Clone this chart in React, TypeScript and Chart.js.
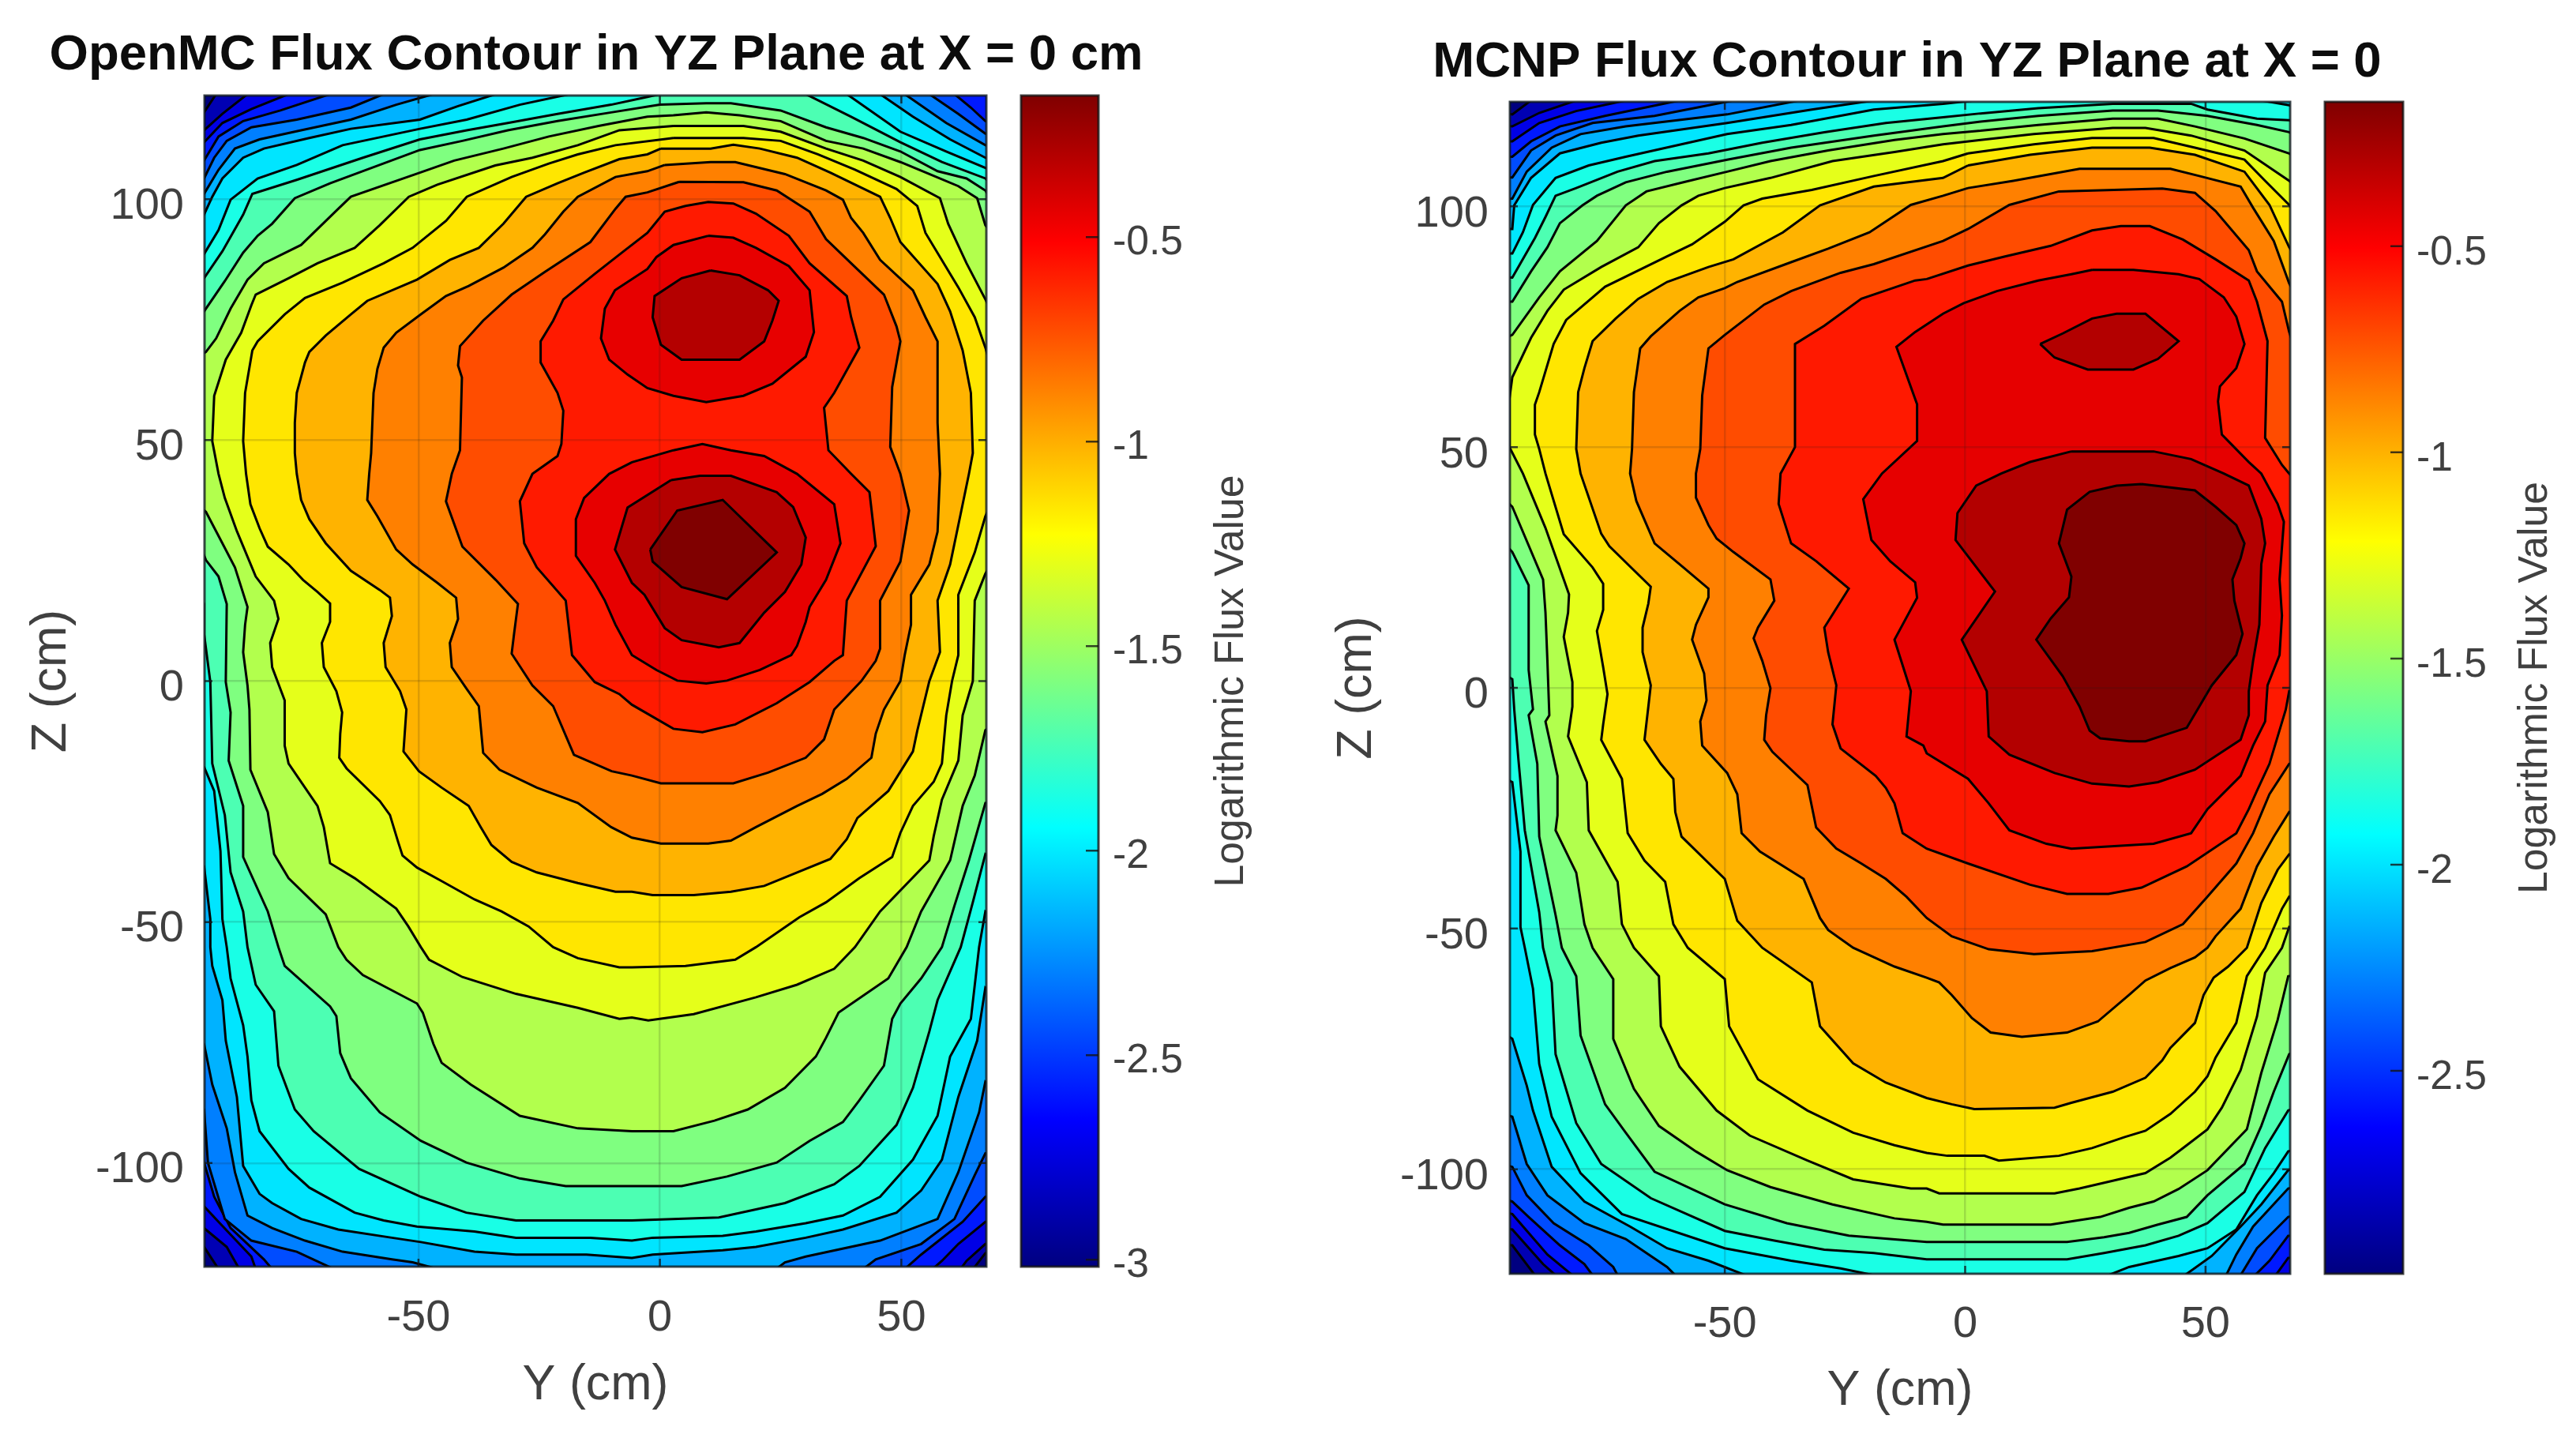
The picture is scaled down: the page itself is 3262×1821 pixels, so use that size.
import React, { useEffect, useRef } from "react";
import { Chart, registerables } from "chart.js";

Chart.register(...registerables);

const FONT = '"Liberation Sans", Arial, sans-serif';
const TEXT = "#404040";

const yTicks = [-50, 0, 50];
const zTicks = [-100, -50, 0, 50, 100];
const openmcBarTicks = [-3, -2.5, -2, -1.5, -1, -0.5];
const mcnpBarTicks = [-2.5, -2, -1.5, -1, -0.5];

const jetStops: [number, string][] = [
  [0, "#000080"], [0.125, "#0000ff"], [0.375, "#00ffff"], [0.625, "#ffff00"], [0.875, "#ff0000"], [1, "#800000"],
];

const openmcRange = [-3.017, -0.154];
const mcnpRange = [-2.992, -0.15];

const openmcLevels = [-2.874, -2.731, -2.588, -2.445, -2.302, -2.159, -2.016, -1.873, -1.73, -1.587, -1.444, -1.301, -1.158, -1.015, -0.872, -0.729, -0.586, -0.443, -0.3, -0.154];
const mcnpLevels = [-2.85, -2.708, -2.566, -2.424, -2.282, -2.139, -1.997, -1.855, -1.713, -1.571, -1.429, -1.287, -1.145, -1.003, -0.861, -0.718, -0.576, -0.434, -0.292, -0.15];

// OpenMC contours: [Y cm, Z cm], one outline per flux level
const openmc01 = [[-91.9,121.8],[100,125],[100,-118],[67.4,-118.7],[64.4,-122.6],[-91.4,-122],[-94.4,-117.4],[-140,-110],[-140,130],[-94.4,118]];
const openmc02 = [[-85.4,121.8],[90,125],[90,-115],[67.4,-116.8],[63.5,-120.3],[61.8,-122.6],[-87.1,-122],[-89.7,-117.4],[-94.4,-113.5],[-135,-105],[-135,125],[-94.4,114.3],[-90.6,117.7]];
const openmc03 = [[-76.9,121.8],[67,121.8],[110,120],[110,-115],[67.4,-112.2],[61.8,-116.8],[58.4,-120.3],[55.8,-122.6],[-83.7,-122],[-84.6,-119.4],[-91.4,-112.2],[-94.4,-109],[-130,-100],[-130,120],[-94.4,111.8],[-90.6,115.8],[-84.6,118.7]];
const openmc04 = [[-68.3,121.8],[61,121.8],[64.4,119],[67.4,116.2],[105,115],[105,-110],[67.4,-107],[62.7,-112.2],[54.1,-119],[50.7,-122],[-80.3,-122],[-82,-120],[-88.9,-113.5],[-92.3,-107],[-94.4,-99.9],[-125,-90],[-125,115],[-94.4,108],[-91.4,113],[-86.3,116.2],[-78.6,118.4]];
const openmc05 = [[-57.2,121.8],[55.8,121.8],[61.8,117.7],[67.4,113.6],[100,110],[100,-105],[67.4,-98],[65.2,-102.5],[61,-111.6],[54.1,-116.8],[44.7,-120],[42.1,-122],[-67.5,-122],[-75.2,-118.4],[-84.6,-116.1],[-90.1,-111.6],[-93.6,-99.9],[-94.4,-88.9],[-120,-80],[-120,110],[-94.4,104.3],[-92.3,108.6],[-89.7,112.1],[-84.6,114.9],[-75.2,116.5],[-64,119]];
const openmc06 = [[-46.9,121.8],[50.7,121.8],[59.3,115.8],[67.4,111.2],[95,105],[95,-100],[67.4,-83.1],[66.1,-89.5],[61.8,-101.9],[57.5,-111.6],[45.6,-116.1],[30.2,-119.4],[25.9,-120.6],[23.3,-122.6],[-46,-122],[-51.2,-120.6],[-55.5,-120],[-65.7,-118.4],[-73.5,-116.1],[-80.3,-113.5],[-85.4,-110.9],[-88,-101.9],[-89.7,-92.8],[-92.7,-83.7],[-94.4,-75.3],[-115,-60],[-115,105],[-94.4,101.1],[-91.4,106.1],[-88,110.5],[-82.9,112.4],[-74.3,114.3],[-64,116.5],[-54.6,119.6]];
const openmc07 = [[-34,121.8],[45.6,121.8],[52.4,117.1],[60.1,112.4],[67.4,108.6],[90,100],[90,-80],[67.4,-63.6],[65.7,-74.6],[61.8,-86.3],[58.4,-99.3],[54.1,-105.7],[49,-110.3],[37.9,-113.8],[30.2,-115.5],[19.9,-117.4],[13,-118.1],[-1.5,-119],[-5.8,-119.7],[-15.2,-119],[-29.8,-119],[-38.4,-118.4],[-49.5,-116.4],[-55.5,-115.5],[-66.6,-113.8],[-74.3,-111.6],[-80.3,-108.3],[-82.9,-106.4],[-86.3,-100.6],[-87.6,-86.3],[-89.9,-74.6],[-90.6,-66.2],[-92.7,-59.1],[-93.1,-55.2],[-93.1,-49.4],[-94.4,-38.4],[-110,-30],[-110,95],[-94.4,96.8],[-92.7,100.5],[-90.6,104.3],[-86.3,108.6],[-82,110.5],[-72.6,112.7],[-64,114.6],[-49.7,116.5],[-41.8,119.3]];
const openmc08 = [[-18.7,121.8],[38.7,121.8],[49.8,114],[59.3,109.9],[67.4,106.5],[86,95],[86,-60],[67.4,-47.8],[66.1,-55.2],[64.4,-70.1],[60.1,-77.9],[57.5,-90.2],[52.4,-99.3],[45.6,-107],[37.9,-110.9],[30.2,-112.5],[19.9,-114.2],[13,-115.1],[-1.5,-115.5],[-5.8,-116.1],[-14.4,-115.5],[-29.8,-115.5],[-38.4,-114.2],[-50.3,-113.2],[-57.2,-111.9],[-63.2,-110.3],[-72.6,-105.1],[-76.9,-101.2],[-82.9,-93.4],[-84.6,-87],[-85.4,-77.9],[-86.3,-71.4],[-88.9,-61.7],[-89.7,-55.2],[-90.6,-49.4],[-91,-35.3],[-92.3,-22.8],[-94.4,-17.8],[-105,-10],[-105,90],[-94.4,88.6],[-91.4,93.6],[-88.9,99.9],[-83.3,104.3],[-75.2,107.1],[-65.7,111.2],[-49.7,114.6],[-40,116.5],[-29,119.6]];
const openmc09 = [[0,121.8],[30.2,121.8],[39.6,117.1],[49.8,111.8],[58.4,107.7],[67.4,104.3],[82,90],[82,-45],[67.4,-35.9],[64.8,-45.9],[62.3,-55.2],[57.5,-66.2],[55.8,-72.7],[52.4,-84.4],[49,-92.1],[41.3,-100.6],[36.1,-104.4],[25.9,-108.3],[12.2,-111.3],[-5.8,-111.9],[-10.1,-111.9],[-29.8,-111.9],[-40.1,-110.3],[-49.5,-107],[-62.3,-101.2],[-71.7,-93.4],[-75.6,-88.9],[-79,-79.8],[-79.9,-68.5],[-83.7,-63],[-85.4,-55.2],[-86.3,-47.8],[-88.9,-39.7],[-90.1,-27.8],[-92.7,-17.1],[-93.1,-0.2],[-94.4,9.8],[-94.4,16],[-100,30],[-100,85],[-94.4,83.6],[-90.6,89.2],[-86.3,96.8],[-84.4,101.1],[-75.2,104],[-61.5,108.6],[-49.7,112.4],[-40,114.3],[-31.5,115.8],[-21.2,117.7],[-10.1,119.6],[-2.6,121.2]];
const openmc10 = [[0,119.6],[9.6,119.9],[14.7,119.9],[25,118.4],[34.4,114.9],[42.1,112.7],[49.8,109.9],[57.5,105.8],[63.5,104.3],[67.4,101.8],[78,85],[78,-25],[67.4,-25.3],[64,-37.2],[61,-46.6],[58.4,-55.2],[54.1,-61.7],[49.8,-66.9],[48.1,-70.1],[46.4,-79.8],[41.3,-87],[37.9,-91.5],[31,-95.4],[24.2,-99.9],[13.9,-102.8],[4.5,-104.8],[-5.8,-104.8],[-19.5,-104.8],[-29,-103.2],[-40.1,-99.9],[-49.5,-95.4],[-58,-89.5],[-64,-82.4],[-66.2,-77.2],[-67,-69.5],[-68.3,-67.5],[-77.7,-59.1],[-79,-55.2],[-81.2,-47.8],[-86.3,-36.5],[-86.3,-25.9],[-89.3,-16.5],[-88.9,-6.5],[-89.9,-0.2],[-89.7,16],[-91.4,21.7],[-94,25.1],[-100,40],[-100,75],[-94.4,76.7],[-90.1,83],[-86.3,88.9],[-83.3,92.4],[-80.3,94.9],[-75.6,100.2],[-68.3,103.3],[-49.7,110.2],[-40.9,112.1],[-31.5,114.3],[-21.2,116.2],[-10.1,118]];
const openmc11 = [[2.8,117.4],[9.6,118],[16.5,117.4],[25,116.2],[34.4,112.1],[42.1,110.5],[49.8,107.7],[55.8,105.2],[61.8,102.7],[65.7,100.2],[67.4,94.6],[75,85],[75,-5],[67.4,-10.2],[65.2,-19.6],[62.7,-25.9],[60.1,-37.2],[54.1,-47.8],[51.1,-55.2],[47.3,-61.7],[37,-68.8],[34.4,-74],[32.3,-77.9],[25.9,-84.4],[18.2,-88.9],[11.3,-91.2],[2.8,-93.4],[-5.8,-93.4],[-17,-92.8],[-29,-90.2],[-39.2,-83.7],[-45.2,-79.2],[-46.9,-75.3],[-49.1,-68.8],[-50.3,-66.9],[-61.5,-61],[-64.9,-57.8],[-66.6,-55.2],[-69.2,-48.4],[-76.9,-40.9],[-79.9,-35.9],[-81.2,-27.2],[-84.8,-18.4],[-85,-5.9],[-85.4,-0.9],[-86.3,6],[-85.9,11.7],[-85.4,15.4],[-88,23.6],[-90.6,28.6],[-94,35.1],[-100,40],[-100,65],[-94,68.3],[-91.9,71.1],[-88.9,77.3],[-85.4,83.3],[-82,86.7],[-74.3,90.5],[-66.6,98],[-64,100.5],[-49.7,105.5],[-42.6,108],[-32.4,110.5],[-23,113],[-12.7,115.2],[-2.6,117.1]];
const openmc12 = [[2.8,115.2],[17.3,115.2],[25,114],[34.4,110.5],[42.1,108],[49.8,104.6],[58,100.2],[59.7,94.9],[63.5,86.7],[67.4,79.2],[72,70],[72,30],[67.4,22.3],[65.2,16.7],[64.8,0],[62.7,-7.1],[61.8,-16.5],[58.4,-24.6],[56.7,-32.2],[55.8,-37.2],[45.6,-47.8],[40.4,-55.2],[36.1,-59.7],[28.4,-63],[19.9,-65.6],[7,-69.1],[-2.4,-70.4],[-5.8,-69.8],[-8.4,-70.1],[-17,-67.8],[-29.8,-64.9],[-40.9,-61.4],[-47.8,-57.8],[-49.5,-55.2],[-52.1,-50.9],[-54.6,-47.2],[-63.2,-40.9],[-68.3,-37.8],[-69.6,-30.3],[-70.9,-25.9],[-76.9,-17.1],[-77.7,-13.4],[-77.7,-4],[-80.3,2.9],[-80.7,7.9],[-79,12.9],[-79.9,16.7],[-83.7,21.7],[-87.6,31.1],[-90.1,38],[-91.4,43],[-92.7,49.8],[-92.3,59.2],[-89.9,66.7],[-86.7,72.3],[-84.6,78],[-83.7,80.2],[-76.9,83.6],[-70.9,86.7],[-63.2,89.9],[-58,94.6],[-52,100.5],[-46.1,103],[-34.1,107],[-26.4,108.6],[-17,111.2],[-8.4,114.3]];
const openmc13 = [[2.8,112.7],[17.3,112.7],[25,112.1],[32.7,109.3],[40.4,106.1],[49,102.1],[53.3,98.6],[55,93],[61.8,81.7],[65.2,75.5],[67.4,69.2],[70,60],[70,40],[67.4,34.2],[65.2,26.7],[61.8,17.9],[61.8,5.4],[60.5,0],[59.3,-7.1],[58.4,-17.1],[56.7,-20.9],[52.4,-25.9],[49.8,-31.5],[48.1,-36.5],[41.3,-40.9],[34.4,-45.9],[28.9,-49],[19.9,-55.2],[15.6,-57.8],[5.3,-59.1],[-5.8,-59.4],[-8.4,-59.4],[-17,-57.5],[-22.1,-55.2],[-27.2,-50.9],[-32.8,-47.8],[-38.4,-45.3],[-45.2,-41.5],[-50.3,-38.7],[-53.3,-36.2],[-54.2,-33.4],[-55.9,-27.8],[-58,-24.9],[-64.9,-18.1],[-66.4,-15.9],[-66.2,-10.9],[-65.8,-6.5],[-67,-2.1],[-69.6,2.9],[-70,7.9],[-68.3,12.3],[-68.3,16.1],[-70.9,18.5],[-73.9,21],[-76.9,24.2],[-81.2,27.9],[-82.9,31.7],[-84.8,36.7],[-85.7,43],[-86.3,49.8],[-85.9,59.8],[-84.4,68.6],[-83.3,70.5],[-77.7,76.1],[-73.5,79.5],[-65.7,82.7],[-57.2,86.7],[-51.2,89.9],[-44.3,95.5],[-40,100.5],[-30.7,104.6],[-23,107.4],[-17,109.3],[-9.2,111.2]];
const openmc14 = [[0.2,110.5],[10.5,110.5],[15.2,111.3],[20.7,110.5],[28.4,108.6],[35.3,105.5],[45.6,100.5],[47.7,96.1],[49.8,91.1],[57.5,82.4],[60.1,76.7],[62.7,68.6],[64.4,59.8],[64.8,47.3],[64,43],[62.7,36.7],[60.1,24.2],[57.5,16.7],[58,6],[55.8,0],[53.3,-10.3],[52.4,-14.6],[47.3,-22.8],[40.9,-28.4],[38.7,-32.8],[35.3,-36.9],[28.4,-39.7],[21.6,-42.5],[14.7,-43.7],[7,-44.4],[-1.5,-44.4],[-5.8,-43.7],[-9.2,-43.7],[-17,-41.9],[-25.5,-39.7],[-30.7,-37.5],[-34.9,-34],[-37.1,-30.3],[-39.6,-25.9],[-45.2,-22.1],[-49.9,-18.7],[-53.1,-14.6],[-52.5,-5.9],[-53.8,-2.1],[-56.8,2.9],[-57.2,7.9],[-55.5,13.5],[-55.9,17.3],[-58,18.9],[-64,22.9],[-69.2,28.6],[-72.6,33.6],[-74.3,37.6],[-75.2,43],[-75.6,47.3],[-75.6,53.6],[-75.2,59.8],[-73.5,66.1],[-72.6,68.3],[-69.2,71.7],[-64,76.1],[-60.6,78.9],[-50.3,83.3],[-43.5,87.4],[-37.5,89.9],[-32.4,94.9],[-27.7,100.5],[-21.2,103.3],[-15.7,105.5],[-8.4,108.3],[-2.6,109.3]];
const openmc15 = [[1,107.1],[10.5,107.7],[15.6,107.7],[25.9,105.2],[34.4,101.8],[37.9,99.9],[39.6,96.1],[42.1,93],[45.6,87.4],[52.4,81.1],[55,75.5],[57.5,70.5],[57.5,53.6],[58,43],[57.5,31],[55.8,24.2],[52,17.9],[52,11.7],[50.7,5.4],[49.8,0],[46.4,-5.9],[44.7,-10.9],[43.8,-15.9],[38.7,-20.3],[33.6,-23.4],[28.4,-25.9],[19.9,-30.3],[14.7,-33.1],[10,-33.7],[0.2,-33.7],[-5.8,-32.5],[-10.1,-30.3],[-17,-25.3],[-25.5,-22.1],[-33.2,-18.4],[-36.6,-14.9],[-37.5,-5.2],[-40.1,-1.5],[-43.1,2.9],[-43.5,7.9],[-41.8,12.9],[-42.2,17.3],[-46.1,20.4],[-51.2,24.2],[-54.6,27.3],[-58.5,34.2],[-60.6,37.6],[-60.2,43],[-59.8,47.3],[-59.3,59.8],[-58.5,64.8],[-57.2,69.2],[-54.6,72.3],[-49.5,76.1],[-44.3,79.9],[-39.6,82],[-32.4,85.8],[-26.4,89.9],[-23.8,92.7],[-20,97.4],[-17,100.5],[-9.2,104.6],[-2.6,105.8]];
const openmc16 = [[4,103.6],[17.3,103.5],[24.2,101.8],[31,97.4],[34.4,91.7],[39.6,86.7],[46.4,80.2],[49,73.6],[49.8,70.5],[48.1,61],[47.7,48.6],[49.8,43],[51.6,35.4],[49.8,24.8],[45.6,16.7],[45.6,6.7],[44.7,4.2],[41.7,0],[36.1,-5.9],[34,-12.1],[30.2,-15.9],[22.4,-19],[15.2,-21.2],[0.2,-21.2],[-5.8,-19.6],[-10,-18.7],[-17.8,-15.3],[-22.1,-5.2],[-26.4,-0.9],[-30.7,5.7],[-30.2,9.8],[-29.4,16],[-34,21],[-40.9,27.9],[-44.3,37.3],[-43.1,43],[-41.4,47.9],[-41,63],[-41.8,65.5],[-41.4,69.5],[-36.6,74.8],[-30.7,80.2],[-23.8,84.9],[-14.4,91.1],[-9.2,98],[-7.1,100.5],[-2.6,101.4]];
const openmc17 = [[5.3,98.6],[10,99.4],[15.2,99.1],[19.9,97],[26.7,92.4],[31,86.7],[38.7,79.9],[39.6,75.5],[41.3,69.2],[36.1,59.8],[34,56.7],[34.9,47.9],[39.6,43],[43.4,39.2],[44.7,28],[38.7,16.7],[37.9,5.4],[36.1,4.2],[31,-0.2],[24.2,-4.6],[15.6,-9],[8.8,-10.6],[2.8,-9.9],[-5.8,-4.9],[-8.4,-2.7],[-13.5,-0.2],[-18.2,5.4],[-19.5,16.7],[-25.5,23.6],[-28.1,28.6],[-29,37.3],[-26.4,43],[-21.2,46.7],[-20.4,49.2],[-20,56.1],[-21.2,59.8],[-24.7,66.1],[-24.7,70.5],[-22.1,74.8],[-20,79.2],[-13.5,84.5],[-7.5,89.2],[-2.6,93],[1,97.4]];
const openmc18Upper = [[10,92.4],[15.2,92],[19.9,89.9],[26.7,86.1],[31,81.1],[31.9,72.4],[30.2,67.3],[23.3,61.7],[17.3,59.2],[9.6,57.9],[2.8,59.2],[-2.6,60.8],[-6.7,63.6],[-10.5,66.7],[-12.2,71.1],[-11.4,77.3],[-9.3,81.1],[-2.6,85.5],[-0.7,88],[2.8,90.5]];
const openmc18Lower = [[2.8,47.9],[8.8,49.2],[14.7,47.9],[21.6,46.7],[28.4,43],[36.1,36.7],[37.4,28.6],[34.4,21],[31,15.4],[30.2,12.3],[28.4,7.3],[27.2,5.4],[20.7,2.3],[13.9,0.1],[9.6,-0.5],[3.6,0.1],[-0.7,2.3],[-5.8,5.4],[-9.2,11.7],[-11.4,16.7],[-13.5,20.4],[-17.4,26],[-17.4,33.6],[-15.7,38],[-10.5,43],[-5.8,45.4]];
const openmc19Upper = [[10.5,85.2],[16.5,84.2],[22.4,81.1],[24.6,78.9],[23.3,74.8],[21.6,70.5],[16.5,66.7],[4.5,66.7],[0.2,69.8],[-1.5,75.5],[-1.1,79.9],[4.5,83.6]];
const openmc19Lower = [[2.3,41.7],[8.3,42.6],[14.7,42.6],[24.2,39.2],[27.6,36.1],[30.2,29.8],[29.3,24.2],[25.9,18.5],[21.6,14.2],[16.5,7.9],[12.2,7],[4.5,8.5],[1,11],[-3.2,17.9],[-5.8,20.4],[-9.3,27.3],[-6.7,36]];
const openmc20 = [[-2,27.3],[3.6,35.4],[13,37.6],[24.2,26.7],[13.9,17],[4.5,19.5],[-1.5,24.8]];

// MCNP contours: [Y cm, Z cm]
const mcnp01 = [[-90.3,122],[145,125],[145,-128],[-89.5,-122],[-94.2,-115.8],[-145,-110],[-145,125],[-94.2,119.1]];
const mcnp02 = [[-80.9,122],[140,125],[140,-125],[-85.2,-122],[-87.8,-119.7],[-94.2,-112.5],[-140,-105],[-140,120],[-94.2,116.6],[-88.6,119.4]];
const mcnp03 = [[-70.6,122],[130,123],[130,-115],[67.2,-118.4],[64.6,-122],[-81.7,-122],[-86.9,-117.7],[-94.2,-109.3],[-135,-100],[-135,115],[-94.2,113.5],[-88.6,117.3],[-80.9,119.8]];
const mcnp04 = [[-59.4,122],[125,123],[125,-110],[67.2,-113.8],[63.3,-119],[60.3,-122],[-77.5,-122],[-79.2,-119.7],[-84.3,-115.8],[-90.8,-109.9],[-94.2,-106.7],[-130,-95],[-130,110],[-94.2,110.3],[-90.3,113.5],[-84.3,116.6],[-74.9,118.8]];
const mcnp05 = [[-48.2,122],[120,123],[120,-100],[67.2,-109.9],[60.7,-116.4],[57.3,-122],[-72.3,-122],[-73.2,-120.3],[-78.3,-115.8],[-85.6,-111.2],[-91.2,-105.4],[-94.2,-99.5],[-125,-90],[-125,105],[-94.2,106],[-90.3,111.6],[-85.2,114.7],[-77.5,117.3],[-64.6,118.8]];
const mcnp06 = [[-34.5,122],[115,123],[115,-95],[67.2,-104],[59.9,-111.9],[56.4,-117.7],[54.3,-122],[-60.3,-122],[-62,-120.3],[-70.6,-114.5],[-79.2,-111.2],[-86.9,-105.4],[-91.2,-98.9],[-94.2,-89.1],[-120,-80],[-120,100],[-94.2,101.6],[-91.2,107.2],[-86,112.2],[-80,115],[-70.6,116.6],[-49.5,119.1]];
const mcnp07 = [[-19,122],[110,123],[110,-90],[67.2,-100.2],[61.6,-107.3],[57.3,-111.9],[51.3,-118],[45.7,-122],[-45.7,-122],[-53.4,-119],[-62,-116.4],[-69.7,-111.9],[-79.2,-106.7],[-86,-99.5],[-89.9,-87.8],[-91.2,-82.6],[-94.2,-72.9],[-115,-60],[-115,95],[-94.2,95.3],[-93.8,100.2],[-90.3,105.9],[-84.3,111],[-75.7,113.2],[-68,114.7],[-49.5,117.3],[-31.9,120.1]];
const mcnp08 = [[2,122],[61.6,122],[67.4,121],[105,110],[105,-85],[67.2,-96.3],[64.2,-100.8],[60.7,-105.4],[56.4,-112.5],[50.4,-116.4],[44.4,-118],[34.1,-120.3],[29.8,-122],[-19,-122],[-25.9,-120.6],[-36.2,-119],[-50,-116.4],[-71.4,-109.3],[-80,-100.8],[-86,-89.1],[-88.6,-78.1],[-89.9,-62.5],[-91.6,-54],[-92.5,-49.7],[-92.5,-34],[-94.2,-19.6],[-112,-10],[-112,90],[-94.2,90.2],[-92,94.6],[-89.9,100.3],[-85.2,105.9],[-78.3,108.5],[-70.6,110.3],[-49.5,115],[-36.2,116.9],[-19,120.1],[-4.6,121.3]];
const mcnp09 = [[3.2,119.3],[15.2,120.4],[30.7,121.3],[47,121.3],[50.4,120.1],[60.7,118.2],[67.4,117.9],[100,105],[100,-75],[67.2,-87.8],[62.4,-95.6],[58.1,-104.7],[50.4,-111.2],[44.4,-113.8],[37.5,-115.8],[28.9,-117.4],[21.2,-118.7],[-8,-118.7],[-19,-117.4],[-29.3,-116.7],[-39.7,-114.8],[-50,-112.8],[-65.4,-106],[-75.7,-98.9],[-80.9,-90.4],[-85.2,-76.1],[-86,-61.2],[-87.8,-54],[-88.6,-46.6],[-91.6,-29.6],[-92.9,-15.2],[-93.8,-4.5],[-94.2,1.8],[-108,10],[-108,85],[-94.2,85.2],[-89.5,93.4],[-87.3,97.8],[-85.2,102.2],[-80.9,103.8],[-72.3,107.2],[-64.6,109.4],[-53.4,111],[-42.2,113.2],[-29.3,115.4],[-16.5,117.3],[-4.6,118.5]];
const mcnp10 = [[3.2,117.6],[15.2,118.8],[30.7,119.9],[40.1,119.9],[50.4,118.8],[60.7,116.9],[67.4,115.4],[95,100],[95,-65],[67.4,-76.1],[64.2,-83.9],[61.6,-91],[58.1,-98.9],[50.4,-105.4],[46.1,-109.9],[40.1,-111.5],[34.1,-113.2],[28.9,-114.1],[21.2,-115.1],[-8,-115.1],[-24.2,-113.8],[-37.1,-111.2],[-50,-107.3],[-64.6,-100.5],[-70.6,-92.4],[-74.9,-86.5],[-80,-72.2],[-80.9,-59.9],[-83.9,-54],[-85.2,-47.2],[-88.6,-30.9],[-89,-15.8],[-90.8,-5.7],[-89.9,-4.5],[-90.8,3.7],[-90.8,21.3],[-94.2,28.2],[-105,40],[-105,80],[-94.2,80.2],[-90.3,86.5],[-86.9,91.5],[-84.3,96.5],[-79.6,100.2],[-76.6,102.2],[-70.6,105],[-62,107.2],[-49.5,109.7],[-36.2,112.2],[-19,114.7],[-4.6,116.6]];
const mcnp11 = [[3.2,115.7],[15.2,116.9],[30.7,118.2],[40.1,118.2],[47.8,116.6],[58.1,114.1],[67.4,111],[90,95],[90,-55],[67.2,-59.9],[65,-69],[61.6,-80],[58.6,-91.7],[50.4,-100.2],[44.4,-104.1],[39.2,-106.7],[34.1,-108],[28.1,-109.9],[17.8,-111.5],[-4.6,-111.5],[-8,-110.9],[-14.7,-110.2],[-27.6,-107.3],[-40.5,-103.7],[-49.5,-100.2],[-56,-96.3],[-63.7,-91],[-68.9,-83.3],[-73.2,-72.9],[-73.2,-60.5],[-77.5,-54],[-79.2,-49.1],[-80.9,-38.4],[-85.2,-29.6],[-84.8,-26.5],[-84.8,-18.3],[-87.3,-7],[-86.5,-5.7],[-86.9,5.6],[-87.3,15.6],[-87.8,22.5],[-94.2,37.6],[-102,45],[-102,70],[-94.2,73.3],[-88.6,81.1],[-84.3,86.5],[-76.6,92.8],[-70.6,100.2],[-66.3,103.1],[-58.6,105],[-49.5,107.2],[-40.5,109.4],[-28.5,111.6],[-14.7,113.8],[-4.6,115]];
const mcnp12 = [[3.2,113.8],[14.3,115],[30.7,116.3],[37.5,116.3],[47,114.7],[58.1,111.6],[67.4,105.3],[85,90],[85,-60],[67.4,-49.7],[65.9,-54],[62.4,-59.2],[60.7,-68.3],[57.3,-79.4],[53.4,-87.2],[50.4,-91.7],[46.1,-95],[42.7,-97.6],[37.5,-100.8],[30.7,-102.4],[23.8,-104],[18.6,-105],[-5.4,-105],[-8,-104],[-11.3,-104],[-23.3,-102.1],[-32.8,-98.2],[-44.8,-93],[-51.7,-87.8],[-59.4,-78.7],[-63.3,-70.3],[-63.7,-59.9],[-68.9,-54],[-71.4,-49.1],[-72.3,-40.3],[-78.3,-29.6],[-78.7,-19.6],[-82.6,-10.1],[-81.7,-3.9],[-81.7,1.2],[-83.5,10.6],[-82.6,15.6],[-82.4,19.4],[-83.5,22.5],[-87.3,33.2],[-92,44.5],[-94.8,50],[-94.8,60],[-94.2,64.5],[-90.3,72.7],[-86.9,78.3],[-83.5,82.7],[-75.7,87.4],[-68,91.5],[-63.7,96.5],[-59,100.2],[-55.5,102.2],[-50,103.8],[-40.5,105.9],[-27.6,109.4],[-14.7,111.3],[-4.6,112.9]];
const mcnp13 = [[0.6,111],[14.3,112.9],[26.4,114.2],[39.2,114.2],[47.8,112.2],[58.1,109.7],[62.4,105.3],[67.4,100.3],[80,85],[80,-50],[67.4,-43.4],[65.9,-45.9],[62.4,-54],[58.6,-59.9],[56.4,-69.6],[52.1,-76.8],[50.4,-80.7],[47.8,-83.9],[42.7,-88.5],[37.5,-92],[33.2,-93.3],[26.4,-95.6],[19.5,-97.2],[7,-98.2],[4,-97.2],[-3.7,-97.2],[-8,-96.6],[-14.7,-95],[-23.3,-92.4],[-32.8,-87.8],[-43.1,-81.3],[-49.1,-70.3],[-50,-60.5],[-57.7,-54],[-60.7,-49.1],[-62.4,-40.3],[-66.7,-35.9],[-70.2,-30.2],[-71.4,-18.9],[-75.7,-10.8],[-75.3,-7.6],[-74.4,-1.3],[-75.3,4.3],[-76.6,11.8],[-75.3,16.2],[-75.3,21.6],[-77.5,25],[-83.5,31.9],[-87.3,44.5],[-88.6,49.6],[-89.5,52.6],[-89.5,58.8],[-88.6,61.4],[-85.6,71.4],[-83,76.4],[-74.9,83.3],[-62,89.6],[-56.8,92.1],[-50,96.8],[-46.1,100.2],[-42.2,101.6],[-31.9,103.4],[-19,106.3],[-4.6,109.4]];
const mcnp14 = [[0.6,108.5],[13.5,110.7],[26.4,112.2],[38.4,112.2],[47.8,110.7],[58.1,107.2],[63.3,100.3],[67.4,91.5],[78,75],[78,-40],[67.4,-34.6],[65,-37.8],[61.6,-44.7],[58.6,-54],[54.7,-57.9],[51.7,-60.2],[49.6,-63.8],[47.8,-69.6],[42.7,-74.8],[41,-77.4],[37.5,-81],[30.7,-83.9],[22.1,-86.2],[18.6,-87.2],[1.9,-87.5],[-2.8,-86.5],[-8,-85.2],[-16.5,-82],[-23.3,-78],[-30.2,-70.3],[-31.9,-61.2],[-42.2,-54],[-47.4,-48.4],[-50,-39.7],[-59,-30.9],[-60.3,-25.8],[-60.7,-18.9],[-63.3,-15.8],[-66.7,-10.8],[-65.9,-3.9],[-65.4,0.5],[-67.1,7.4],[-67.1,12.5],[-65.9,17.5],[-65.4,21],[-74,29.4],[-75.7,32],[-80,44.5],[-80.9,49.6],[-80.5,61.4],[-79.2,66.4],[-77.5,72],[-72.7,76.7],[-68,80.8],[-62,84.3],[-53.4,87.4],[-48.2,89],[-37.9,94.6],[-30.2,100.2],[-19,104.1],[-4.6,105.9]];
const mcnp15 = [[0.6,103.8],[10,105.3],[23.8,107.8],[42.7,107.8],[48.7,106.3],[57.3,104.1],[59.9,99.7],[64.2,92.8],[67.4,84],[75,70],[75,-30],[67.4,-25.8],[64.2,-30.9],[60.7,-37.1],[57.3,-45.9],[52.1,-51.6],[50.4,-54],[47.8,-56],[42.7,-58.2],[37.5,-60.8],[34.1,-63.8],[27.6,-69.3],[21.2,-71.6],[11.8,-72.5],[5.3,-71.6],[1.4,-68.6],[-2.8,-63.8],[-5.4,-61.2],[-8,-60.2],[-14.7,-57.9],[-23.3,-54],[-28.5,-50.3],[-30.2,-47.8],[-33.6,-39.7],[-42.7,-34],[-46.5,-30.2],[-47.4,-22.1],[-49.5,-17.7],[-54.7,-12],[-55.1,-7],[-53.8,-2.6],[-54.3,3],[-56.8,10],[-56,13.1],[-53.4,18.8],[-53.4,20.6],[-58.6,25],[-64.6,30],[-68.4,38.8],[-69.7,44.5],[-69.3,49.6],[-68.9,61.4],[-67.6,70.5],[-65.4,73],[-59.4,78.3],[-55.5,81.1],[-50,83],[-47.4,84.3],[-36.2,88.4],[-28.5,91.2],[-19.9,94.6],[-11.3,100.3],[-4.6,102.2]];
const mcnp16 = [[0.6,95.3],[9.2,100.3],[19.5,103.1],[41,103.7],[47.8,102.8],[52.1,99],[59,90.9],[60.7,86.5],[65.9,80.2],[67.4,73.9],[72,60],[72,-15],[67.4,-15.8],[63.3,-22.1],[59.9,-30.2],[56.4,-36.5],[50.4,-43.4],[45.3,-49.1],[37.5,-52.8],[26.4,-54.7],[14.3,-55.3],[4.9,-54.3],[-2.8,-51.6],[-8,-47.8],[-12.2,-43.4],[-16.5,-39.7],[-21.6,-36.5],[-26.8,-33.4],[-31,-29],[-32.8,-20.2],[-40.1,-13.3],[-41.8,-10.8],[-41.4,-5.7],[-40.5,-0.1],[-42.2,5.6],[-44,10.3],[-43.1,12.5],[-39.7,18.1],[-40.5,22.5],[-48.2,28.2],[-51.7,31],[-53.4,33.8],[-56,39.5],[-56,44.5],[-55.1,49.6],[-54.7,60.7],[-53.4,70.5],[-50,73.3],[-41.8,79.6],[-36.2,82.4],[-25.9,86.2],[-19,88],[-4.6,92.8]];
const mcnp17 = [[-8,84.9],[0.6,87.7],[8.3,89.6],[17.8,91.8],[26.4,95],[32.4,95.9],[38.4,95.9],[45.3,93.1],[52.1,89],[59,84.6],[60.7,80.2],[62.9,72],[62.4,51.9],[65.9,46.3],[67.4,44.5],[72,40],[72,-2],[67.4,-0.7],[66.7,-4.5],[63.3,-15.8],[60.7,-21.4],[59,-25.2],[56.4,-30.2],[46.1,-37.1],[36.7,-41.5],[29.8,-42.8],[21.2,-42.8],[13.5,-40.9],[0.6,-36.5],[-8,-33.4],[-13,-30.2],[-14.7,-24],[-16.5,-20.8],[-18.6,-18.3],[-25.9,-12.6],[-27.6,-7.6],[-26.8,0.5],[-28.5,7.4],[-29.3,12.5],[-24.2,20.6],[-31,26.3],[-36.2,30],[-38.8,38.2],[-38.4,44.5],[-35.4,50],[-35.4,71.4],[-29.3,75.2],[-21.6,80.8],[-10.4,84.6]];
const mcnp18 = [[26.4,86.8],[35,86.8],[44.4,85.9],[48.7,84.9],[53.8,81.1],[56.4,77.1],[58.1,71.4],[56.4,66.4],[53,62.6],[52.6,59.5],[53.4,52.6],[59,46.9],[61.6,44.5],[65,38.2],[66.3,34.5],[65.4,22.5],[65.9,15],[65.4,6.8],[62.9,0.5],[62.4,-7],[59.9,-12],[57.3,-18.3],[50.4,-25.2],[47,-30.2],[39.2,-32.4],[22.1,-33.4],[16.9,-32.4],[9.2,-29.6],[4.9,-24],[0.6,-18.9],[-8,-13.6],[-8.7,-12],[-12.2,-10.1],[-11.3,-0.7],[-14.7,10],[-10,18.7],[-10.4,21.9],[-15.6,26.3],[-19.5,30.7],[-21.2,39.2],[-17.3,44.5],[-10,51.3],[-10,58.9],[-14.3,70.8],[-10.4,73.9],[-4.6,77.7],[-0.3,79.9],[6.6,82.4],[15.2,84.6],[22.1,85.9]];
const mcnp19Upper = [[15.6,71.4],[20.3,73.6],[26.4,76.7],[31.5,77.7],[37.5,77.7],[44.4,72],[40.1,68.3],[35,66.1],[25.5,66.1],[18.6,68.6]];
const mcnp19Lower = [[22.1,49.1],[39.2,49.1],[47,47.5],[53.8,44.5],[59,42],[61.6,35.1],[62.4,30],[61.6,25.7],[61.2,13.1],[59.9,5.6],[59,-0.7],[59,-5.7],[57.3,-10.8],[47.8,-17],[40.1,-19.6],[34.1,-20.5],[26.4,-19.9],[18.6,-17.7],[9.2,-13.9],[4.9,-10.1],[4.5,-0.7],[-0.7,10],[6.2,20],[-2,30.7],[-1.6,36.3],[2.3,42],[7.5,44.5],[13.5,46.9]];
const mcnp20 = [[36.7,42.3],[47.8,41],[52.1,37.6],[56.4,33.8],[58.1,30],[57.3,26.9],[55.6,22.5],[56,18.1],[57.7,11.2],[56.4,6.8],[51.3,0.5],[48.7,-3.9],[46.1,-8.3],[37.5,-11.1],[34.1,-11.1],[28.1,-10.5],[25.9,-8.9],[23.8,-3.9],[20.3,2.4],[14.8,10],[17.8,14.4],[21.6,18.8],[22.1,23.1],[19.5,30],[21.2,37],[25.9,40.7],[31.5,42]];

const openmcContours: number[][][][] = [
  [openmc01], [openmc02], [openmc03], [openmc04], [openmc05], [openmc06], [openmc07], [openmc08], [openmc09], [openmc10],
  [openmc11], [openmc12], [openmc13], [openmc14], [openmc15], [openmc16], [openmc17], [openmc18Upper, openmc18Lower], [openmc19Upper, openmc19Lower], [openmc20],
];
const mcnpContours: number[][][][] = [
  [mcnp01], [mcnp02], [mcnp03], [mcnp04], [mcnp05], [mcnp06], [mcnp07], [mcnp08], [mcnp09], [mcnp10],
  [mcnp11], [mcnp12], [mcnp13], [mcnp14], [mcnp15], [mcnp16], [mcnp17], [mcnp18], [mcnp19Upper, mcnp19Lower], [mcnp20],
];

function hexRgb(h: string) {
  return [parseInt(h.slice(1, 3), 16), parseInt(h.slice(3, 5), 16), parseInt(h.slice(5, 7), 16)];
}
function jet(t: number) {
  const c = Math.max(0, Math.min(1, t));
  for (let i = 1; i < jetStops.length; i++) {
    if (c <= jetStops[i][0]) {
      const [t0, h0] = jetStops[i - 1];
      const [t1, h1] = jetStops[i];
      const f = (c - t0) / (t1 - t0);
      const a = hexRgb(h0);
      const b = hexRgb(h1);
      return `rgb(${a.map((v, k) => Math.round(v + (b[k] - v) * f)).join(",")})`;
    }
  }
  return jetStops[jetStops.length - 1][1];
}

const contourFrame = {
  id: "contourFrame",
  beforeDatasetsDraw(chart: any) {
    const a = chart.chartArea;
    const ctx = chart.ctx;
    ctx.save();
    ctx.fillStyle = jetStops[0][1];
    ctx.fillRect(a.left, a.top, a.right - a.left, a.bottom - a.top);
    ctx.restore();
  },
  afterDraw(chart: any) {
    const a = chart.chartArea;
    const ctx = chart.ctx;
    ctx.save();
    ctx.strokeStyle = "rgba(15,25,30,0.8)";
    ctx.lineWidth = 3;
    ctx.strokeRect(a.left, a.top, a.right - a.left, a.bottom - a.top);
    const len = 10;
    ctx.lineWidth = 2.5;
    ctx.beginPath();
    chart.scales.y.ticks.forEach((t: any) => {
      const p = chart.scales.y.getPixelForValue(t.value);
      ctx.moveTo(a.left, p); ctx.lineTo(a.left + len, p);
      ctx.moveTo(a.right, p); ctx.lineTo(a.right - len, p);
    });
    chart.scales.x.ticks.forEach((t: any) => {
      const p = chart.scales.x.getPixelForValue(t.value);
      ctx.moveTo(p, a.top); ctx.lineTo(p, a.top + len);
      ctx.moveTo(p, a.bottom); ctx.lineTo(p, a.bottom - len);
    });
    ctx.stroke();
    ctx.restore();
  },
};

function barFrame(label: string, labelX: number, fontSize: number) {
  return {
    id: "barFrame",
    afterDraw(chart: any) {
      const a = chart.chartArea;
      const ctx = chart.ctx;
      ctx.save();
      ctx.strokeStyle = "rgba(20,20,20,0.8)";
      ctx.lineWidth = 3;
      ctx.strokeRect(a.left, a.top, a.right - a.left, a.bottom - a.top);
      ctx.lineWidth = 2.5;
      ctx.beginPath();
      chart.scales.y.ticks.forEach((t: any) => {
        const p = chart.scales.y.getPixelForValue(t.value);
        ctx.moveTo(a.right, p);
        ctx.lineTo(a.right - 16, p);
      });
      ctx.stroke();
      ctx.translate(labelX, (a.top + a.bottom) / 2);
      ctx.rotate(-Math.PI / 2);
      ctx.font = `${fontSize}px ${FONT}`;
      ctx.fillStyle = TEXT;
      ctx.textAlign = "center";
      ctx.textBaseline = "middle";
      ctx.fillText(label, 0, 0);
      ctx.restore();
    },
  };
}

function contourConfig(p: any) {
  const datasets: any[] = [];
  p.contours.forEach((outlines: number[][][], k: number) => {
    const color = jet((p.levels[k] - p.range[0]) / (p.range[1] - p.range[0]));
    outlines.forEach((pts: number[][]) => {
      datasets.push({
        data: [...pts, pts[0]],
        xAxisID: "x",
        yAxisID: "y",
        showLine: true,
        fill: "shape",
        backgroundColor: color,
        borderColor: "#000000",
        borderWidth: 3,
        pointRadius: 0,
        tension: 0,
        clip: 0,
        order: -k,
      });
    });
  });
  return {
    type: "scatter",
    data: { datasets },
    plugins: [contourFrame],
    options: {
      responsive: false,
      animation: false,
      devicePixelRatio: 1,
      plugins: {
        legend: { display: false },
        tooltip: { enabled: false },
        title: {
          display: true,
          text: p.title,
          color: "#0c0c0c",
          font: { family: FONT, size: 63.5, weight: "bold", lineHeight: 1.2 },
          padding: { top: p.titleTop, bottom: p.titleBottom },
        },
      },
      scales: {
        x: {
          type: "linear",
          min: p.xLim[0],
          max: p.xLim[1],
          afterBuildTicks: (s: any) => { s.ticks = yTicks.map((value) => ({ value })); },
          afterFit: (s: any) => { s.height = p.bottomSize; },
          grid: { z: 1, color: "rgba(30,30,30,0.15)", lineWidth: 2.5, drawTicks: false },
          border: { display: false },
          ticks: { color: TEXT, font: { family: FONT, size: 56 }, padding: p.xTickPad, maxRotation: 0, callback: (v: any) => String(v) },
          title: { display: true, text: "Y (cm)", color: TEXT, font: { family: FONT, size: 62.8, lineHeight: 1.2 }, padding: { top: 0, bottom: p.xTitlePad } },
        },
        y: {
          type: "linear",
          min: p.yLim[0],
          max: p.yLim[1],
          afterBuildTicks: (s: any) => { s.ticks = zTicks.map((value) => ({ value })); },
          afterFit: (s: any) => { s.width = p.leftSize; },
          grid: { z: 1, color: "rgba(30,30,30,0.15)", lineWidth: 2.5, drawTicks: false },
          border: { display: false },
          ticks: { color: TEXT, font: { family: FONT, size: 56 }, padding: p.yTickPad, labelOffset: p.yLabelOffset, callback: (v: any) => String(v) },
          title: { display: true, text: "Z (cm)", color: TEXT, font: { family: FONT, size: 62.8, lineHeight: 1.2 }, padding: { top: p.yTitlePad, bottom: 0 } },
        },
        gap: {
          axis: "y",
          type: "linear",
          position: "right",
          grid: { display: false },
          border: { display: false },
          ticks: { display: false },
          afterFit: (s: any) => { s.width = p.rightGap; },
        },
      },
    },
  };
}

function barConfig(p: any) {
  return {
    type: "bar",
    data: {
      labels: ["flux"],
      datasets: [{
        data: [p.range],
        barPercentage: 1,
        categoryPercentage: 1,
        borderWidth: 0,
        backgroundColor: (ctx: any) => {
          const a = ctx.chart.chartArea;
          if (!a) return "#000";
          const g = ctx.chart.ctx.createLinearGradient(0, a.bottom, 0, a.top);
          jetStops.forEach(([t, c]) => g.addColorStop(t, c));
          return g;
        },
      }],
    },
    plugins: [barFrame("Logarithmic Flux Value", p.labelX, 51.7)],
    options: {
      responsive: false,
      animation: false,
      devicePixelRatio: 1,
      layout: { padding: { top: p.top, bottom: p.bottom, left: p.padLeft, right: 0 } },
      plugins: { legend: { display: false }, tooltip: { enabled: false }, title: { display: false } },
      scales: {
        x: { display: false },
        y: {
          position: "right",
          type: "linear",
          min: p.range[0],
          max: p.range[1],
          afterBuildTicks: (s: any) => { s.ticks = p.ticks.map((value: number) => ({ value })); },
          afterFit: (s: any) => { s.width = p.axisSize; },
          grid: { display: false, drawTicks: false },
          border: { display: false },
          ticks: { color: TEXT, font: { family: FONT, size: 51.6 }, padding: p.tickPad, labelOffset: p.labelOffset, callback: (v: any) => String(v) },
        },
      },
    },
  };
}

function ChartCanvas({ left, width, config }: { left: number; width: number; config: any }) {
  const ref = useRef<HTMLCanvasElement | null>(null);
  useEffect(() => {
    const chart = new Chart(ref.current as HTMLCanvasElement, config);
    return () => chart.destroy();
  }, []);
  return <canvas ref={ref} width={width} height={1821} style={{ position: "absolute", left, top: 0, width, height: 1821, filter: "blur(0.7px)" }} />;
}

export default function App() {
  return (
    <div style={{ position: "fixed", left: 0, top: 0, width: 3262, height: 1821, background: "#fff", overflow: "hidden" }}>
      <ChartCanvas left={0} width={1510} config={contourConfig({
        contours: openmcContours, levels: openmcLevels, range: openmcRange,
        title: "OpenMC Flux Contour in YZ Plane at X = 0 cm",
        xLim: [-94.3, 67.6], yLim: [-121.5, 121.5],
        rightGap: 261, titleTop: 32, titleBottom: 12.8, bottomSize: 217, leftSize: 259,
        xTickPad: 32, xTitlePad: 29, yTickPad: 26, yTitlePad: 28, yLabelOffset: 9,
      })} />
      <ChartCanvas left={1600} width={1630} config={contourConfig({
        contours: mcnpContours, levels: mcnpLevels, range: mcnpRange,
        title: "MCNP Flux Contour in YZ Plane at X = 0",
        xLim: [-94.7, 67.6], yLim: [-121.7, 121.7],
        rightGap: 330, titleTop: 41.6, titleBottom: 11.2, bottomSize: 208, leftSize: 312,
        xTickPad: 31, xTitlePad: 21.7, yTickPad: 27, yTitlePad: 81, yLabelOffset: 10,
      })} />
      <ChartCanvas left={1270} width={370} config={barConfig({
        range: openmcRange, ticks: openmcBarTicks, top: 121, bottom: 217, padLeft: 23, axisSize: 249, tickPad: 18, labelOffset: 8, labelX: 290,
      })} />
      <ChartCanvas left={2920} width={342} config={barConfig({
        range: mcnpRange, ticks: mcnpBarTicks, top: 129, bottom: 208, padLeft: 24, axisSize: 219, tickPad: 17, labelOffset: 9, labelX: 290.6,
      })} />
    </div>
  );
}
